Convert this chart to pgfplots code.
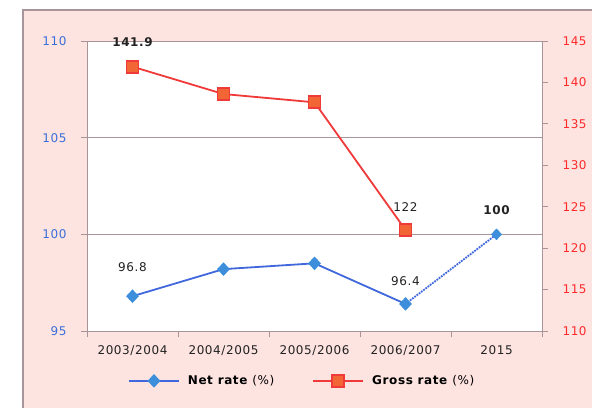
\documentclass[border=0pt]{standalone}
\usepackage{fontspec}
\setmainfont{DejaVu Sans}[LetterSpace=5]
\usepackage{pgfplots}
\pgfplotsset{compat=1.18}

\definecolor{bgpink}{HTML}{FDE4E1}
\definecolor{framecol}{HTML}{A8959A}
\definecolor{netline}{HTML}{4068DC}
\definecolor{netmark}{HTML}{3D8EDB}
\definecolor{grossline}{HTML}{F03A3A}
\definecolor{grossmark}{HTML}{F26535}
\definecolor{leftlab}{HTML}{3A6FD8}
\definecolor{rightlab}{HTML}{FF2A2A}
\definecolor{txt}{HTML}{222222}

\newcommand{\lblfont}{\fontsize{12bp}{14bp}\selectfont}

\begin{document}
\begin{tikzpicture}
\useasboundingbox (-87bp,-77bp) rectangle (505bp,331bp);
\fill[bgpink] (-64bp,-77bp) rectangle (505bp,321bp);
\draw[framecol, line width=1.5bp] (-64bp,-77bp) -- (-64bp,321bp) -- (505bp,321bp);

\pgfplotsset{
  every axis/.append style={
    at={(0,0)}, anchor=south west, scale only axis,
    width=455bp, height=290bp,
    xmin=-0.5, xmax=4.5, clip=false,
    tick align=outside, major tick length=6bp,
    axis line style={framecol, line width=0.8bp},
    every tick/.style={framecol, line width=0.8bp},
    /pgf/number format/assume math mode=true,
    tick label style={font=\lblfont},
  },
}

\begin{axis}[
  axis background/.style={fill=white},
  ymin=95, ymax=110, ytick={95,100,105,110},
  ytick pos=left, xtick pos=bottom,
  yticklabel style={leftlab, xshift=-11bp},
  ymajorgrids, grid style={framecol, line width=0.8bp},
  xtick={-0.5,0.5,...,4.5},
  xticklabels={2003/2004,2004/2005,2005/2006,2006/2007,2015,{}},
  xticklabel style={txt, xshift=45.5bp, yshift=-5bp},
  legend style={at={(0.473,-0.172)}, anchor=center, draw=none, fill=none,
    legend columns=2, font=\lblfont,
    /tikz/every even column/.append style={column sep=36bp},
    /tikz/every odd column/.append style={column sep=6bp}},
  legend image code/.code={
    \draw[mark repeat=2,mark phase=2] plot coordinates {(0bp,0bp)(25bp,0bp)(50bp,0bp)};},
]
\addplot[netline, line width=1.8bp, mark=diamond*, mark size=5.5bp,
  mark options={netmark, fill=netmark, xscale=1.25, solid}]
  coordinates {(0,96.8) (1,98.2) (2,98.5) (3,96.4)};
\addlegendentry{\textbf{Net rate} (\%)}
\addlegendimage{grossline, line width=1.8bp, mark=square*, mark size=6bp,
  mark options={draw=grossline, fill=grossmark}}
\addlegendentry{\textbf{Gross rate} (\%)}
\addplot[netline, line width=1.8bp, densely dotted, forget plot]
  coordinates {(3,96.4) (4,100)};
\addplot[only marks, mark=diamond*, mark size=5.5bp,
  mark options={netmark, fill=netmark, xscale=1.25}, forget plot]
  coordinates {(4,100)};
\node[txt, font=\lblfont] at (axis cs:0,98.3) {96.8};
\node[txt, font=\lblfont] at (axis cs:3,97.6) {96.4};
\node[txt, font=\bfseries\lblfont] at (axis cs:4,101.25) {100};
\end{axis}

\begin{axis}[
  axis y line*=right, axis x line=none,
  ymin=110, ymax=145, ytick={110,115,...,145},
  yticklabel style={rightlab, xshift=11bp},
]
\addplot[grossline, line width=1.8bp, mark=square*, mark size=6bp,
  mark options={draw=grossline, fill=grossmark}]
  coordinates {(0,141.9) (1,138.6) (2,137.6) (3,122.2)};
\node[txt, font=\bfseries\lblfont] at (axis cs:0,144.9) {141.9};
\node[txt, font=\lblfont] at (axis cs:3,124.9) {122};
\end{axis}
\end{tikzpicture}
\end{document}
